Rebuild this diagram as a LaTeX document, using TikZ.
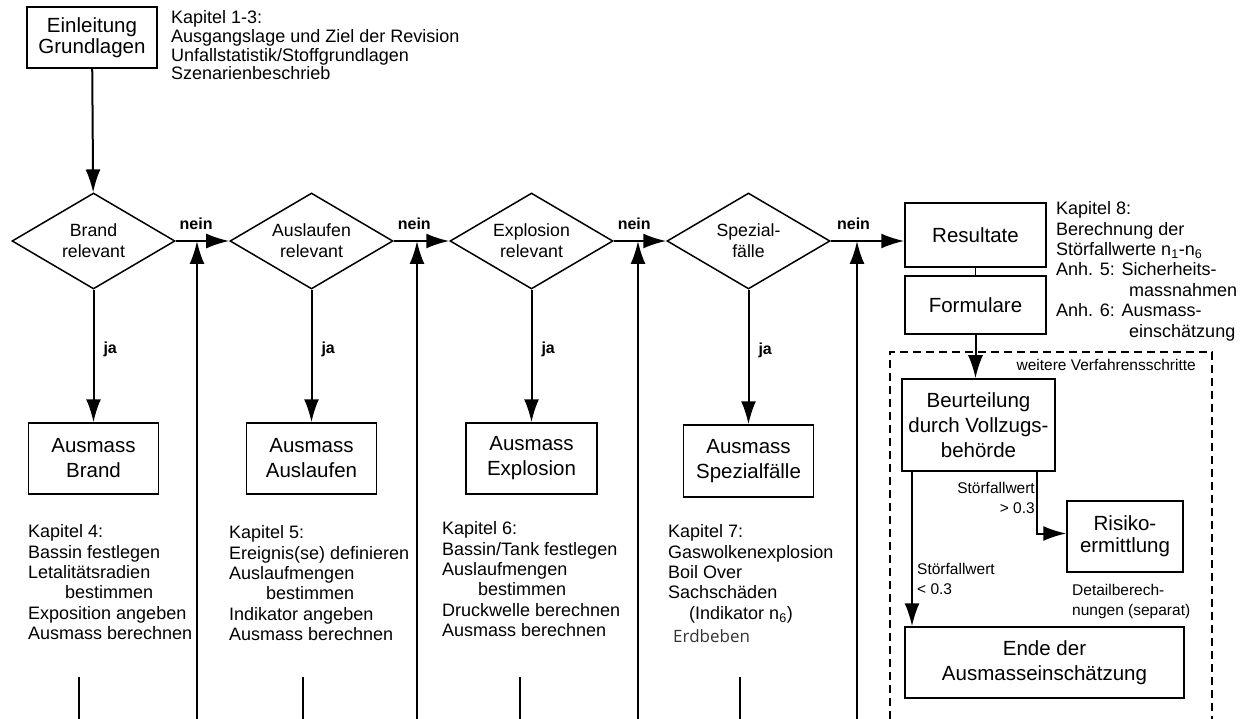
\documentclass[tikz,border=0pt]{standalone}
\usepackage{fontspec}
\setmainfont{Liberation Sans}
\newfontfamily\erdfont{Open Sans}
\usetikzlibrary{shapes.geometric, arrows.meta}

\newcommand{\boxfont}{\fontsize{20.5}{25}\selectfont}
\newcommand{\diafont}{\fontsize{17.7}{21}\selectfont}
\newcommand{\kapfont}{\fontsize{18}{20.4}\selectfont}
\newcommand{\notefont}{\fontsize{15.5}{19.5}\selectfont}

\begin{document}
\begin{tikzpicture}[x=1pt, y=1pt]
		\tikzstyle{stage}=[rectangle, draw, line width=1.5pt, align=center, font=\boxfont, inner sep=0pt]
		\tikzstyle{decision}=[diamond, draw, line width=1.5pt, aspect=1.7, minimum width=163pt, minimum height=96pt, inner sep=0pt, align=center, font=\diafont]
		\tikzstyle{chapter}=[align=left, anchor=north west, inner sep=0pt, font=\kapfont]
		\tikzstyle{note}=[inner sep=0pt, font=\notefont]
		\tikzstyle{answer}=[inner sep=1pt, font=\fontsize{16}{18}\selectfont\bfseries]
		\tikzstyle{flow}=[-{Latex[length=23pt, width=15pt]}, line width=2pt]
		\tikzstyle{stub}=[line width=1.1pt]
		\tikzstyle{frame}=[line width=1.4pt, dash pattern=on 8pt off 5pt]

		\useasboundingbox (0,0) rectangle (1240,-719);

		% Einleitung
		\node[stage, minimum width=130pt, minimum height=61pt, font=\fontsize{20.5}{21}\selectfont] (intro) at (92,-37.5) {
			Einleitung\\Grundlagen
		};
		\node[chapter, font=\fontsize{18}{18.7}\selectfont] (chap13) at (171,-10.5) {
			Kapitel 1-3:\\Ausgangslage und Ziel der Revision\\Unfallstatistik/Stoffgrundlagen\\Szenarienbeschrieb
		};

		% Entscheide
		\node[decision] (brand) at (93.5,-241) {Brand\\relevant};
		\node[decision, right of=brand, node distance=218pt] (auslauf) {Auslaufen\\relevant};
		\node[decision, right of=auslauf, node distance=220pt] (explo) {Explosion\\relevant};
		\node[decision, right of=explo, node distance=217pt] (spezial) {Spezial-\\fälle};

		% Ausmass
		\node[stage, minimum width=130pt, minimum height=71pt, below of=brand, node distance=217.5pt] (abrand) {
			Ausmass\\Brand
		};
		\node[stage, minimum width=130pt, minimum height=71pt, below of=auslauf, node distance=217.5pt] (aauslauf) {
			Ausmass\\Auslaufen
		};
		\node[stage, minimum width=131pt, minimum height=71pt, below of=explo, node distance=217.5pt] (aexplo) {
			Ausmass\\Explosion
		};
		\node[stage, minimum width=130pt, minimum height=72pt, below of=spezial, node distance=220pt] (aspezial) {
			Ausmass\\Spezialfälle
		};

		\node[chapter] (chap4) at (28,-524.5) {
			Kapitel 4:\\Bassin festlegen\\Letalitätsradien\\\hspace*{37pt}bestimmen\\Exposition angeben\\Ausmass berechnen
		};
		\node[chapter] (chap5) at (229,-525.5) {
			Kapitel 5:\\Ereignis(se) definieren\\Auslaufmengen\\\hspace*{37pt}bestimmen\\Indikator angeben\\Ausmass berechnen
		};
		\node[chapter] (chap6) at (442,-521.5) {
			Kapitel 6:\\Bassin/Tank festlegen\\Auslaufmengen\\\hspace*{36pt}bestimmen\\Druckwelle berechnen\\Ausmass berechnen
		};
		\node[chapter] (chap7) at (668,-524.5) {
			Kapitel 7:\\Gaswolkenexplosion\\Boil Over\\Sachschäden\\\hspace*{21pt}(Indikator n\textsubscript{6})\\[3pt]
			\hspace*{5pt}{\erdfont\fontsize{17}{20}\selectfont\color{black!80}Erdbeben}
		};

		% Resultate
		\node[stage, minimum width=141pt, minimum height=64pt] (result) at (975.5,-235) {Resultate};
		\node[stage, minimum width=141pt, minimum height=58pt, below of=result, node distance=70pt] (formular) {Formulare};
		\node[chapter] (chap8) at (1056,-201.5) {
			Kapitel 8:\\Berechnung der\\Störfallwerte n\textsubscript{1}-n\textsubscript{6}\\Anh. 5: Sicherheits-\\\hspace*{73pt}massnahmen\\Anh. 6: Ausmass-\\\hspace*{73pt}einschätzung
		};

		% weitere Verfahrensschritte
		\draw[frame] (890,-719) |- (1212,-352) -- (1212,-719);
		\node[note, anchor=north east] (further) at (1196,-359.5) {weitere Verfahrensschritte};
		\node[stage, minimum width=153pt, minimum height=92pt] (beurteil) at (978.5,-425) {
			Beurteilung\\durch Vollzugs-\\behörde
		};
		\node[stage, minimum width=116pt, minimum height=71pt, font=\fontsize{20.5}{22}\selectfont] (risiko) at (1125,-536.5) {
			Risiko-\\ermittlung
		};
		\node[stage, minimum width=279pt, minimum height=71pt] (ende) at (1044.5,-662.5) {
			Ende der\\Ausmasseinschätzung
		};
		\node[note, align=right, anchor=north east] (hi) at (1035,-482.5) {Störfallwert\\> 0.3};
		\node[note, align=left, anchor=north west] (lo) at (917,-563.5) {Störfallwert\\< 0.3};
		\node[note, align=left, anchor=north west] (detail) at (1072,-584.5) {Detailberech-\\nungen (separat)};

		\coordinate (split) at (1037,-471);
		\coordinate (lowsplit) at (912,-471);

		\coordinate (up1) at (197,-719);
		\coordinate (up2) at (417,-719);
		\coordinate (up3) at (638,-719);
		\coordinate (up4) at (857,-719);

		\coordinate (s1) at (79,-677);
		\coordinate (s2) at (303,-677);
		\coordinate (s3) at (520,-677);
		\coordinate (s4) at (740,-677);

		\draw[flow] (intro) -- (brand);
		\draw[flow] (brand) -- node[answer, above=9pt, pos=.38] {nein} (auslauf);
		\draw[flow] (auslauf) -- node[answer, above=9pt, pos=.37] {nein} (explo);
		\draw[flow] (explo) -- node[answer, above=9pt, pos=.39] {nein} (spezial);
		\draw[flow] (spezial.east) -- node[answer, above=9pt, pos=.31] {nein} (spezial.east -| result.west);

		\draw[flow] (brand) -- node[answer, right=8pt, pos=.45] {ja} (abrand);
		\draw[flow] (auslauf) -- node[answer, right=8pt, pos=.45] {ja} (aauslauf);
		\draw[flow] (explo) -- node[answer, right=8pt, pos=.45] {ja} (aexplo);
		\draw[flow] (spezial) -- node[answer, right=8pt, pos=.45] {ja} (aspezial);

		\draw[flow] (up1) -- (up1 |- brand.east);
		\draw[flow] (up2) -- (up2 |- auslauf.east);
		\draw[flow] (up3) -- (up3 |- explo.east);
		\draw[flow] (up4) -- (up4 |- spezial.east);

		\draw[stub] (s1) -- (s1 |- up1);
		\draw[stub] (s2) -- (s2 |- up2);
		\draw[stub] (s3) -- (s3 |- up3);
		\draw[stub] (s4) -- (s4 |- up4);

		\draw[line width=1.5pt] (result) -- (formular);
		\draw[flow] (formular.south) -- (formular.south |- beurteil.north);
		\draw[flow] (split) |- ([yshift=3pt]risiko.west);
		\draw[flow] (lowsplit) -- (lowsplit |- ende.north);

	\end{tikzpicture}
\end{document}
